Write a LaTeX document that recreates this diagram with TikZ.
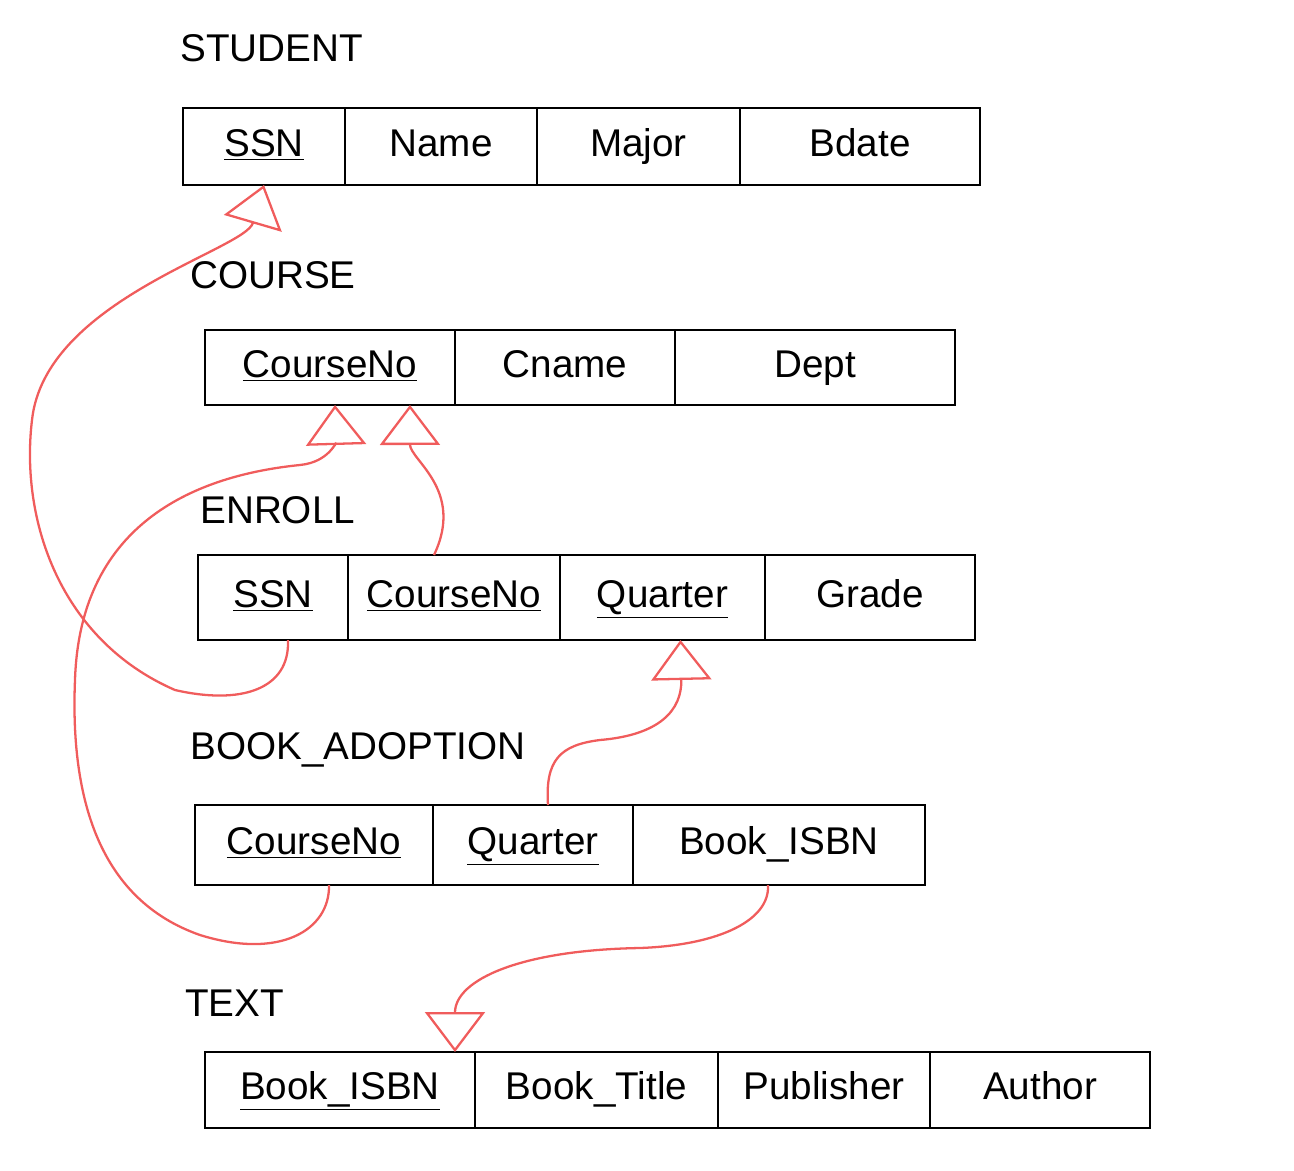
\documentclass[tikz,border=0pt]{standalone}
\usepackage{fontspec}
\setmainfont{Liberation Sans}
\usetikzlibrary{arrows.meta}
\definecolor{fkred}{RGB}{240,92,92}
\tikzset{
  cellbox/.style={draw=black, line width=1.6pt, inner sep=0pt, outer sep=0pt,
    text height=16pt, text depth=5pt, font=\fontsize{22}{26}\selectfont},
  reltitle/.style={anchor=west, inner sep=0pt, font=\fontsize{22}{26}\selectfont},
  fk/.style={draw=fkred, line width=1.3pt, -{Triangle[open, length=0.8cm, width=1.2cm]}}
}
\newcommand{\relcell}[6]{\node[cellbox, minimum width={(#3-#2)*0.02cm}, minimum height={(#5-#4)*0.02cm}] (#1) at ({(#2+#3)/2},{(#4+#5)/2}) {#6};}
\begin{document}
\begin{tikzpicture}[x=0.02cm, y=-0.02cm]
\useasboundingbox (0,0) rectangle (1294,1170);
% STUDENT
\node[reltitle] (tstudent) at (180,48) {STUDENT};
\relcell{s-ssn}{183}{345}{108}{185}{\underline{SSN}}
\relcell{s-name}{345}{537}{108}{185}{Name}
\relcell{s-major}{537}{740}{108}{185}{Major}
\relcell{s-bdate}{740}{980}{108}{185}{Bdate}
% COURSE
\node[reltitle] (tcourse) at (190,275) {COURSE};
\relcell{c-cno}{205}{455}{330}{405}{\underline{CourseNo}}
\relcell{c-cname}{455}{675}{330}{405}{Cname}
\relcell{c-dept}{675}{955}{330}{405}{Dept}
% ENROLL
\node[reltitle] (tenroll) at (200,510) {ENROLL};
\relcell{e-ssn}{198}{348}{555}{640}{\underline{SSN}}
\relcell{e-cno}{348}{560}{555}{640}{\underline{CourseNo}}
\relcell{e-qtr}{560}{765}{555}{640}{\underline{Quarter}}
\relcell{e-grade}{765}{975}{555}{640}{Grade}
% BOOK_ADOPTION
\node[reltitle] (tbook) at (190,750) {BOOK\_ADOPTION};
\relcell{b-cno}{195}{433}{805}{885}{\underline{CourseNo}}
\relcell{b-qtr}{433}{633}{805}{885}{\underline{Quarter}}
\relcell{b-isbn}{633}{925}{805}{885}{Book\_ISBN}
% TEXT
\node[reltitle] (ttext) at (185,1003) {TEXT};
\relcell{t-isbn}{205}{475}{1052}{1128}{\underline{Book\_ISBN}}
\relcell{t-title}{475}{718}{1052}{1128}{Book\_Title}
\relcell{t-pub}{718}{930}{1052}{1128}{Publisher}
\relcell{t-author}{930}{1150}{1052}{1128}{Author}
% foreign keys
\draw[fk] ([xshift=0.3cm]e-ssn.south) .. controls (290,690) and (240,705) .. (175,690)
  .. controls (60,640) and (20,520) .. (32,420)
  .. controls (45,300) and (245,250) .. (s-ssn.south);
\draw[fk] ([xshift=-0.4cm]e-cno.north) .. controls (465,490) and (410,460) .. ([xshift=1.6cm]c-cno.south);
\draw[fk] ([xshift=0.3cm]b-cno.south) .. controls (330,930) and (280,960) .. (200,935)
  .. controls (100,900) and (70,800) .. (75,680)
  .. controls (80,520) and (200,475) .. (300,465)
  .. controls (330,462) and (336,440) .. ([xshift=0.1cm]c-cno.south);
\draw[fk] ([xshift=0.3cm]b-qtr.north) .. controls (545,760) and (560,745) .. (600,740)
  .. controls (660,735) and (682,710) .. ([xshift=0.36cm]e-qtr.south);
\draw[fk] ([xshift=-0.22cm]b-isbn.south) .. controls (770,920) and (720,945) .. (640,948)
  .. controls (520,950) and (455,980) .. ([xshift=2.3cm]t-isbn.north);
\end{tikzpicture}
\end{document}
